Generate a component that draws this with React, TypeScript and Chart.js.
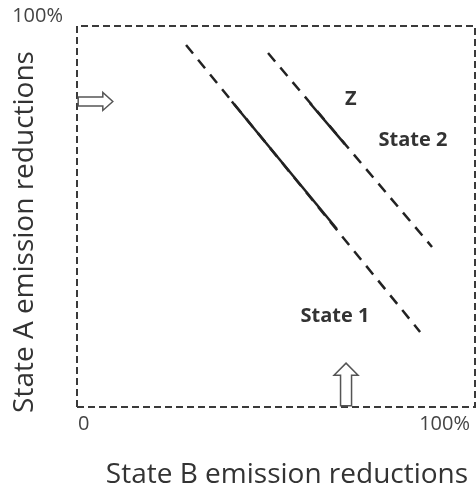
import { useEffect, useRef } from 'react';
import { Chart, ChartConfiguration, Plugin, registerables } from 'chart.js';

Chart.register(...registerables);

// Curve end points (percent of each state's reductions)
const state1X = [27.4, 86.2];
const state1Y = [95.0, 19.7];
const state1SolidX = [38.9, 65.3];
const state1SolidY = [80.2, 46.7];
const state2X = [48.0, 89.2];
const state2Y = [92.9, 42.0];
const zSolidX = [58.5, 67.3];
const zSolidY = [79.8, 69.0];

// Hollow arrows on the axes
const arrowAX = [0.3, 9.0];
const arrowAY = 80.2;
const arrowBX = 67.6;
const arrowBY = [0.3, 11.5];

// Annotations
const labelText = ['Z', 'State 2', 'State 1'];
const labelX = [68.8, 84.4, 64.8];
const labelY = [80.8, 70.1, 23.9];

// Tick labels
const xTickValues = [0, 100];
const xTickLabels = ['0', '100%'];
const yTickValues = [100];
const yTickLabels = ['100%'];

const xTitle = 'State B emission reductions';
const yTitle = 'State A emission reductions';

const toPoints = (xs: number[], ys: number[]) => xs.map((x, i) => ({ x, y: ys[i] }));

const overlayPlugin: Plugin = {
  id: 'overlay',
  beforeDatasetsDraw(chart) {
    const { ctx } = chart;
    const x = chart.scales.x;
    const y = chart.scales.y;
    const l = x.getPixelForValue(0);
    const r = x.getPixelForValue(100);
    const t = y.getPixelForValue(100);
    const b = y.getPixelForValue(0);
    ctx.save();
    ctx.strokeStyle = '#3a3a3a';
    ctx.lineWidth = 2;
    ctx.setLineDash([7, 4]);
    ctx.beginPath();
    ctx.moveTo(l, b);
    ctx.lineTo(l, t);
    ctx.lineTo(r, t);
    ctx.lineTo(r, b);
    ctx.lineTo(l, b);
    ctx.stroke();
    ctx.restore();
  },
  afterDatasetsDraw(chart) {
    const { ctx } = chart;
    const x = chart.scales.x;
    const y = chart.scales.y;
    ctx.save();

    // right-pointing arrow on the State A axis
    const ax0 = x.getPixelForValue(arrowAX[0]);
    const ax1 = x.getPixelForValue(arrowAX[1]);
    const ay = y.getPixelForValue(arrowAY);
    ctx.strokeStyle = '#555';
    ctx.fillStyle = '#fff';
    ctx.lineWidth = 1.5;
    ctx.beginPath();
    ctx.moveTo(ax0, ay - 4.5);
    ctx.lineTo(ax1 - 10, ay - 4.5);
    ctx.lineTo(ax1 - 10, ay - 9);
    ctx.lineTo(ax1, ay);
    ctx.lineTo(ax1 - 10, ay + 9);
    ctx.lineTo(ax1 - 10, ay + 4.5);
    ctx.lineTo(ax0, ay + 4.5);
    ctx.closePath();
    ctx.fill();
    ctx.stroke();

    // up-pointing arrow on the State B axis
    const bx = x.getPixelForValue(arrowBX);
    const by0 = y.getPixelForValue(arrowBY[0]);
    const by1 = y.getPixelForValue(arrowBY[1]);
    ctx.beginPath();
    ctx.moveTo(bx - 5.5, by0);
    ctx.lineTo(bx - 5.5, by1 + 12);
    ctx.lineTo(bx - 12, by1 + 12);
    ctx.lineTo(bx, by1);
    ctx.lineTo(bx + 12, by1 + 12);
    ctx.lineTo(bx + 5.5, by1 + 12);
    ctx.lineTo(bx + 5.5, by0);
    ctx.closePath();
    ctx.fill();
    ctx.stroke();

    // annotations
    ctx.fillStyle = '#333';
    ctx.font = 'bold 20px "Open Sans"';
    ctx.textAlign = 'center';
    ctx.textBaseline = 'middle';
    labelText.forEach((txt, i) => {
      ctx.fillText(txt, x.getPixelForValue(labelX[i]), y.getPixelForValue(labelY[i]));
    });

    // tick labels
    ctx.fillStyle = '#444';
    ctx.font = '20px "Open Sans"';
    ctx.textBaseline = 'middle';
    xTickValues.forEach((v, i) => {
      const px = x.getPixelForValue(v);
      ctx.textAlign = i === 0 ? 'left' : 'right';
      ctx.fillText(xTickLabels[i], i === 0 ? px + 1 : px - 5, y.getPixelForValue(0) + 17);
    });
    yTickValues.forEach((v, i) => {
      ctx.textAlign = 'right';
      ctx.fillText(yTickLabels[i], x.getPixelForValue(0) - 14, y.getPixelForValue(v) - 10);
    });

    // axis titles
    ctx.fillStyle = '#333';
    ctx.font = '28px "Open Sans"';
    ctx.textAlign = 'center';
    ctx.textBaseline = 'alphabetic';
    ctx.fillText(xTitle, 287, 483);
    ctx.translate(33, 232);
    ctx.rotate(-Math.PI / 2);
    ctx.fillText(yTitle, 0, 0);
    ctx.restore();
  },
};

function EmissionChart() {
  const canvasRef = useRef<HTMLCanvasElement>(null);
  const chartRef = useRef<Chart | null>(null);

  useEffect(() => {
    if (!canvasRef.current) return;
    document.body.style.margin = '0';

    const line = {
      borderColor: '#222',
      borderWidth: 2.5,
      pointRadius: 0,
      showLine: true,
      fill: false,
    };

    const config: ChartConfiguration = {
      type: 'scatter',
      data: {
        datasets: [
          { ...line, label: 'State 1', data: toPoints(state1X, state1Y), borderDash: [11, 8] },
          { ...line, label: 'State 1 solid', data: toPoints(state1SolidX, state1SolidY) },
          { ...line, label: 'State 2', data: toPoints(state2X, state2Y), borderDash: [11, 8] },
          { ...line, label: 'Z', data: toPoints(zSolidX, zSolidY) },
        ],
      },
      options: {
        responsive: false,
        maintainAspectRatio: false,
        animation: false,
        layout: { padding: { left: 77, top: 26, right: 1, bottom: 83 } },
        plugins: {
          legend: { display: false },
          tooltip: { enabled: false },
        },
        scales: {
          x: { type: 'linear', min: 0, max: 100, display: false },
          y: { type: 'linear', min: 0, max: 100, display: false },
        },
      },
      plugins: [overlayPlugin],
    };

    chartRef.current = new Chart(canvasRef.current, config);

    return () => {
      chartRef.current?.destroy();
    };
  }, []);

  return (
    <div style={{ width: '476px', height: '490px', background: '#fff' }}>
      <canvas ref={canvasRef} width={476} height={490}></canvas>
    </div>
  );
}

export default function App() {
  return <EmissionChart />;
}
